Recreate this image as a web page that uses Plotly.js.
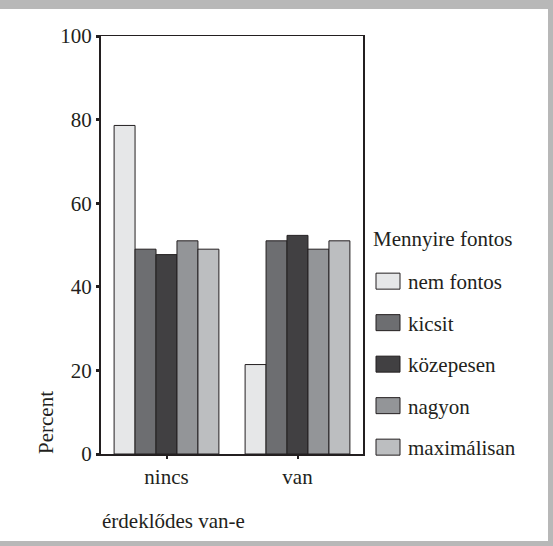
<!DOCTYPE html>
<html>
<head>
<meta charset="utf-8">
<script src="https://cdn.plot.ly/plotly-3.0.1.min.js"></script>
<style>
html,body{margin:0;padding:0;background:#b8b8b8;width:553px;height:546px;overflow:hidden;}
#chart{position:absolute;left:0;top:9px;width:548px;height:532px;background:#fff;}
#note{position:absolute;left:0;top:0;height:9px;width:553px;overflow:hidden;white-space:nowrap;font:7px monospace;line-height:9px;color:#b8b8b8;z-index:10;pointer-events:none;}
</style>
</head>
<body>
<div id="chart"></div>
<div id="note"></div>
<script>
const categories = ['nincs', 'van'];
const seriesNames = ['nem fontos', 'kicsit', 'közepesen', 'nagyon', 'maximálisan'];
const nemFontos = [78.6, 21.4];
const kicsit = [49.0, 51.0];
const kozepesen = [47.7, 52.3];
const nagyon = [51.0, 49.0];
const maximalisan = [49.0, 51.0];
const seriesValues = [nemFontos, kicsit, kozepesen, nagyon, maximalisan];
const seriesColors = ['#e6e7e8', '#6d6e71', '#414042', '#939598', '#bcbec0'];
const yTicks = [0, 20, 40, 60, 80, 100];
const legendTitle = 'Mennyire fontos';

const FONT = 'Liberation Serif';
const TXT = '#231f20';

const traces = seriesNames.map((name, i) => ({
  type: 'bar',
  name: name,
  x: categories,
  y: seriesValues[i],
  legendgroup: 'g' + i,
  marker: {color: seriesColors[i], line: {color: TXT, width: 1}},
  hoverinfo: 'none'
}));

const layout = {
  width: 548, height: 532,
  margin: {l: 101, r: 185, t: 27, b: 87, pad: 0},
  paper_bgcolor: '#ffffff',
  plot_bgcolor: '#ffffff',
  font: {family: FONT, size: 21, color: TXT},
  barmode: 'group',
  bargap: 0.2,
  bargroupgap: 0,
  showlegend: true,
  legend: {
    xref: 'container', yref: 'container',
    x: 368 / 548, y: 1 - 252 / 532,
    xanchor: 'left', yanchor: 'top',
    traceorder: 'grouped',
    tracegroupgap: 11.2,
    itemwidth: 30,
    font: {family: FONT, size: 21, color: TXT},
    bgcolor: 'rgba(0,0,0,0)',
    borderwidth: 0
  },
  xaxis: {
    type: 'category',
    range: [-0.5, 1.5],
    showgrid: false, zeroline: false,
    showline: true, linecolor: TXT, linewidth: 1.5, mirror: true,
    ticks: 'outside', ticklen: 3, tickwidth: 2, tickcolor: TXT,
    tickfont: {family: FONT, size: 21, color: TXT},
    fixedrange: true
  },
  yaxis: {
    range: [0, 100],
    tickvals: yTicks,
    ticktext: yTicks.map(String),
    showgrid: false, zeroline: false,
    showline: true, linecolor: TXT, linewidth: 2, mirror: true,
    ticks: 'outside', ticklen: 3, tickwidth: 3, tickcolor: TXT,
    tickfont: {family: FONT, size: 21, color: TXT},
    fixedrange: true
  },
  annotations: [
    {text: 'Percent', xref: 'paper', yref: 'paper', x: (46 - 101) / 262, y: (445 - 414) / 418,
     xanchor: 'center', yanchor: 'middle', textangle: -90, showarrow: false,
     font: {family: FONT, size: 21, color: TXT}},
    {text: 'érdeklődes van-e', xref: 'paper', yref: 'paper', x: -0.004, y: (445 - 512) / 418,
     xanchor: 'left', yanchor: 'middle', showarrow: false,
     font: {family: FONT, size: 21, color: TXT}},
    {text: legendTitle, xref: 'paper', yref: 'paper', x: (371 - 101) / 262, y: (445 - 230) / 418,
     xanchor: 'left', yanchor: 'middle', showarrow: false,
     font: {family: FONT, size: 21, color: TXT}}
  ]
};

Plotly.newPlot('chart', traces, layout, {staticPlot: true, displayModeBar: false}).then(() => {
  document.querySelectorAll('.legend .legendpoints path').forEach(p => {
    p.setAttribute('d', 'M12,8H-12V-8H12Z');
  });
  const lt = document.querySelector('.legendtext');
  document.getElementById('note').textContent = lt ? getComputedStyle(lt).fontFamily : '';
});
</script>
</body>
</html>
